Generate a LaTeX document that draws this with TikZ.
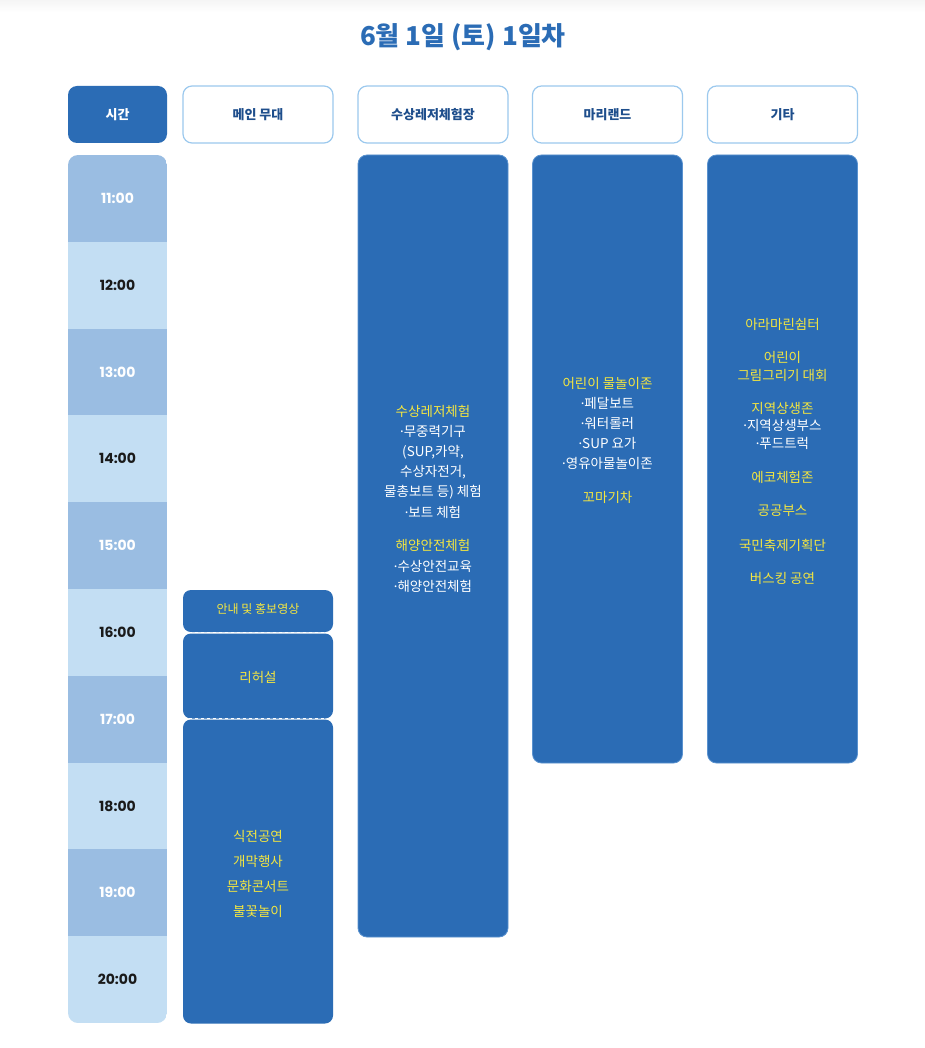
\documentclass[tikz,border=0pt]{standalone}
\usepackage{fontspec}
\setmainfont{Noto Sans CJK KR}
\newfontfamily\numfont{Poppins}
\newfontfamily\latinfont{Noto Sans}
\newcommand\mdot{{\latinfont ·}}
\definecolor{mainblue}{HTML}{2B6CB5}
\definecolor{edgeblue}{HTML}{5A92CF}
\definecolor{headedge}{HTML}{9CC9EE}
\definecolor{headtext}{HTML}{1E4E8C}
\definecolor{rowdark}{HTML}{9ABDE2}
\definecolor{rowlight}{HTML}{C3DEF3}
\definecolor{hl}{HTML}{F4E640}
\definecolor{numdark}{HTML}{1A1A1A}
\begin{document}
\begin{tikzpicture}[x=1pt,y=-1pt,
  headbox/.style={draw=headedge,line width=1.2pt,fill=white,rounded corners=9pt,minimum width=150pt,minimum height=57pt,inner sep=0pt,font=\bfseries\fontsize{13}{15}\selectfont,text=headtext},
  timehead/.style={fill=mainblue,rounded corners=9pt,minimum width=99pt,minimum height=57pt,inner sep=0pt,font=\bfseries\fontsize{13}{15}\selectfont,text=white},
  block/.style={draw=edgeblue,line width=0.8pt,fill=mainblue,rounded corners=9pt,minimum width=150pt,inner sep=0pt},
  stagebox/.style={fill=mainblue,rounded corners=8pt,minimum width=150pt,inner sep=0pt},
  ytext/.style={text=hl,font=\fontsize{13.5}{16}\selectfont,inner sep=0pt},
  wtext/.style={text=white,font=\fontsize{13.5}{16}\selectfont,inner sep=0pt},
  timetext/.style={font=\numfont\bfseries\fontsize{14}{16}\selectfont,inner sep=0pt}
]
\useasboundingbox (0,0) rectangle (925,1048);
\fill[white] (0,0) rectangle (925,1048);
\shade[top color=gray!8,bottom color=white] (0,0) rectangle (925,12);
% title
\node[font=\bfseries\fontsize{26}{30}\selectfont,text=mainblue] (title) at (463,37) {6월 1일 (토) 1일차};
% headers
\node[timehead] (hTime) at (117.5,114.5) {시간};
\node[headbox] (hMain) at (258,114.5) {메인 무대};
\node[headbox] (hWater) at (433,114.5) {수상레저체험장};
\node[headbox] (hMarine) at (607.5,114.5) {마리랜드};
\node[headbox] (hEtc) at (782.5,114.5) {기타};
% time column
\begin{scope}
\clip[rounded corners=10pt] (68,155) rectangle (167,1023);
\foreach \i/\t in {0/11,1/12,2/13,3/14,4/15,5/16,6/17,7/18,8/19,9/20}{
  \pgfmathsetmacro{\ya}{155+86.8*\i}
  \pgfmathsetmacro{\yb}{155+86.8*(\i+1)}
  \pgfmathsetmacro{\ym}{155+86.8*(\i+0.5)}
  \pgfmathtruncatemacro{\odd}{mod(\i,2)}
  \ifnum\odd=0
    \fill[rowdark] (68,\ya) rectangle (167,\yb);
    \node[timetext,text=white] (t\t) at (117.5,\ym) {\t:00};
  \else
    \fill[rowlight] (68,\ya) rectangle (167,\yb);
    \node[timetext,text=numdark] (t\t) at (117.5,\ym) {\t:00};
  \fi
}
\end{scope}
% main stage
\node[stagebox,minimum height=42pt] (s1) at (258,611) {};
\node[stagebox,minimum height=85pt] (s2) at (258,676) {};
\node[stagebox,minimum height=304pt] (s3) at (258,871.5) {};
\draw[white,dashed,line width=0.6pt] (s1.south west) -- (s1.south east);
\draw[white,dashed,line width=0.6pt] (s2.south west) -- (s2.south east);
\node[ytext,font=\fontsize{12}{14}\selectfont] (s1t) at (258,609) {안내 및 홍보영상};
\node[ytext] (s2t) at (258,677) {리허설};
\node[ytext] (s3a) at (258,836) {식전공연};
\node[ytext] (s3b) at (258,861) {개막행사};
\node[ytext] (s3c) at (258,886) {문화콘서트};
\node[ytext] (s3d) at (258,911) {불꽃놀이};
% water leisure
\node[block,minimum height=782pt] (water) at (433,546) {};
\node[ytext] (w1) at (433,411) {수상레저체험};
\node[wtext] (w2) at (433,431) {\mdot{}무중력기구};
\node[wtext] (w3) at (433,452) {(SUP,카약,};
\node[wtext] (w4) at (433,472) {수상자전거,};
\node[wtext] (w5) at (433,492) {물총보트 등) 체험};
\node[wtext] (w6) at (433,512) {\mdot{}보트 체험};
\node[ytext] (w7) at (433,545) {해양안전체험};
\node[wtext] (w8) at (433,566) {\mdot{}수상안전교육};
\node[wtext] (w9) at (433,586) {\mdot{}해양안전체험};
% marine land
\node[block,minimum height=608pt] (marine) at (607.5,459) {};
\node[ytext] (m1) at (607.5,383) {어린이 물놀이존};
\node[wtext] (m2) at (607.5,403) {\mdot{}페달보트};
\node[wtext] (m3) at (607.5,423) {\mdot{}워터롤러};
\node[wtext] (m4) at (607.5,443) {\mdot{}SUP 요가};
\node[wtext] (m5) at (607.5,463) {\mdot{}영유아물놀이존};
\node[ytext] (m6) at (607.5,497) {꼬마기차};
% etc
\node[block,minimum height=608pt] (etc) at (782.5,459) {};
\node[ytext] (e1) at (782.5,324) {아라마린쉼터};
\node[ytext] (e2) at (782.5,357) {어린이};
\node[ytext] (e3) at (782.5,375) {그림그리기 대회};
\node[ytext] (e4) at (782.5,408) {지역상생존};
\node[wtext] (e5) at (782.5,425) {\mdot{}지역상생부스};
\node[wtext] (e6) at (782.5,443) {\mdot{}푸드트럭};
\node[ytext] (e7) at (782.5,477) {에코체험존};
\node[ytext] (e8) at (782.5,511) {공공부스};
\node[ytext] (e9) at (782.5,545) {국민축제기획단};
\node[ytext] (e10) at (782.5,578) {버스킹 공연};
\end{tikzpicture}
\end{document}
